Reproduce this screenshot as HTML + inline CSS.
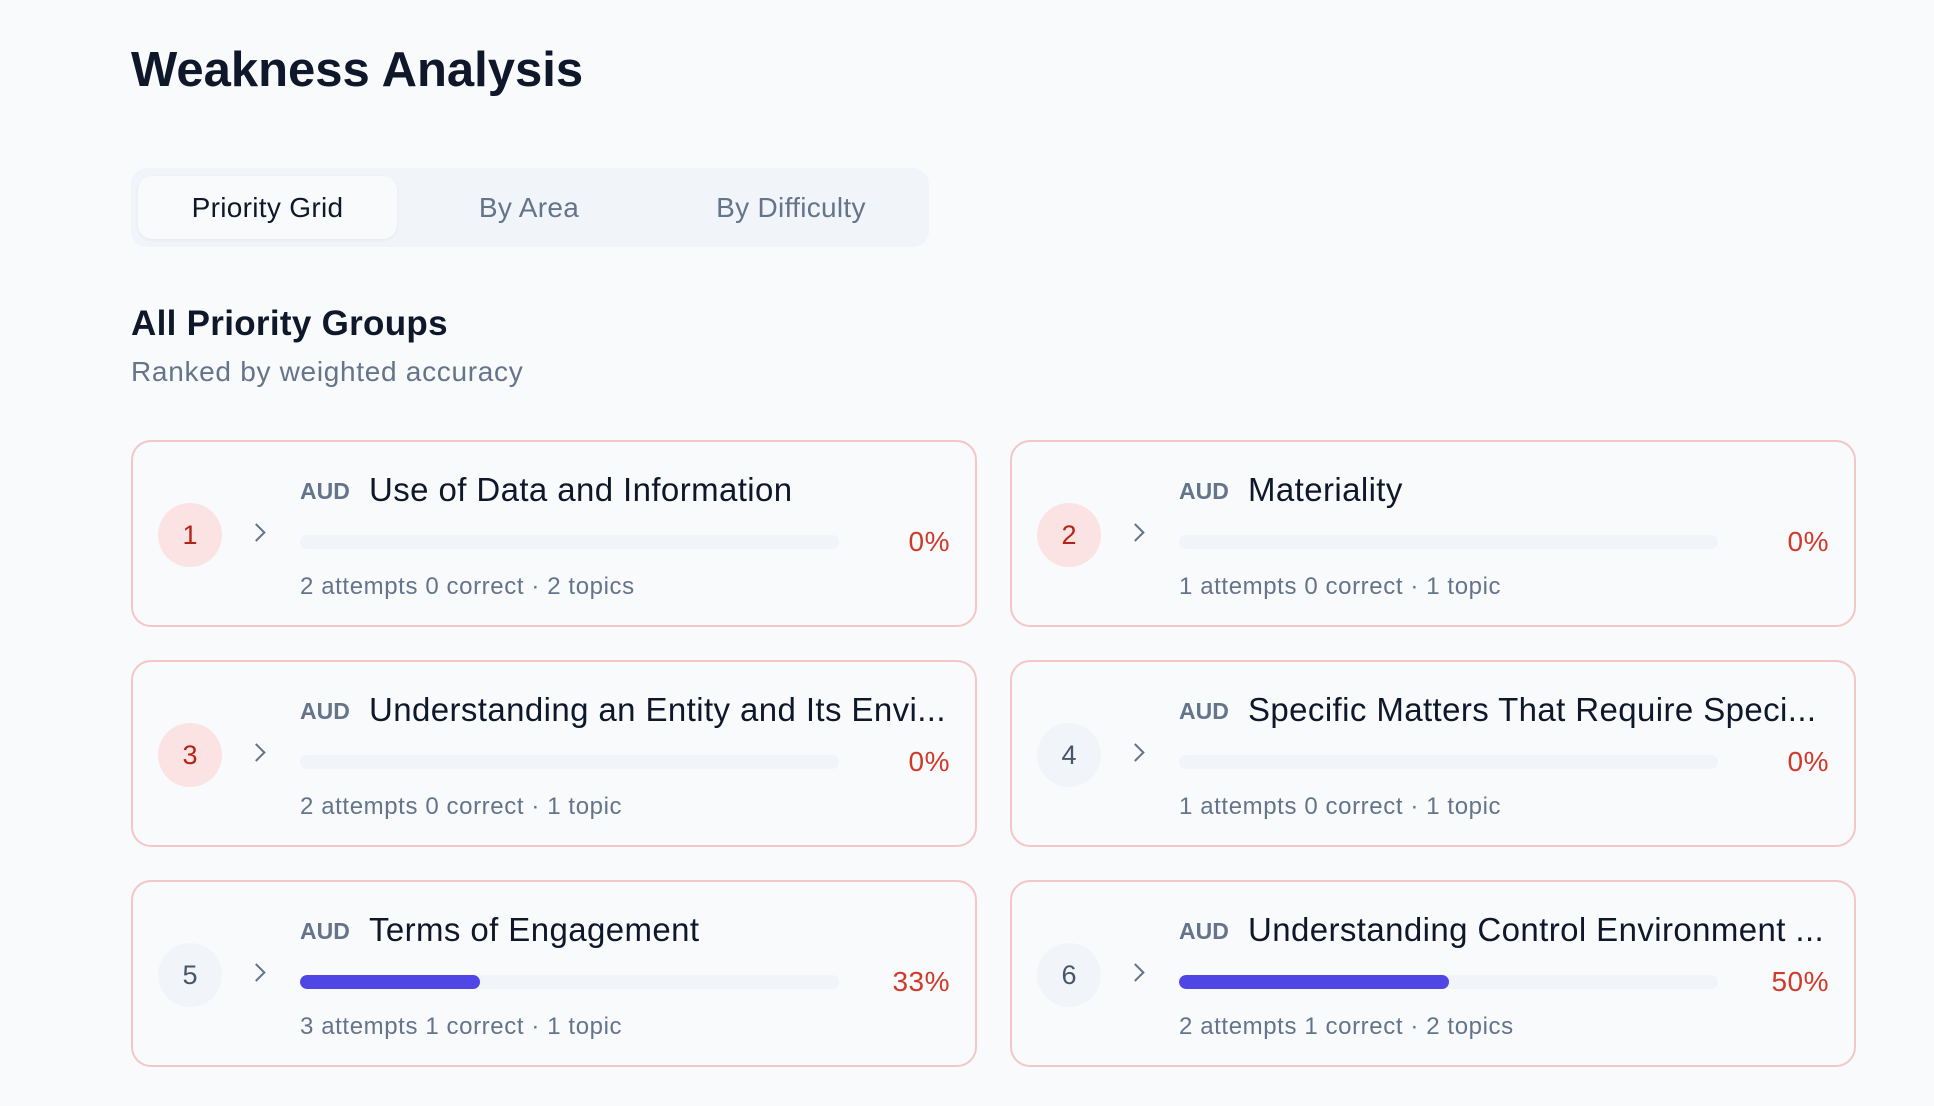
<!DOCTYPE html>
<html><head><meta charset="utf-8"><style>
*{margin:0;padding:0;box-sizing:border-box}
body{width:1934px;height:1106px;background:#f8fafc;font-family:"Liberation Sans",sans-serif;position:relative;overflow:hidden;color:#0f172a}
.abs{position:absolute;white-space:nowrap}
h1{position:absolute;left:131px;top:42px;font-size:49px;font-weight:700;color:#0f172a}
.tabs{position:absolute;left:131px;top:168px;width:798px;height:79px;background:#f1f5f9;border-radius:16px}
.tab{position:absolute;top:8px;height:63px;line-height:63px;font-size:28px;color:#64748b;text-align:center;letter-spacing:0.3px}
.tab.on{background:#f8fafc;color:#0f172a;border-radius:14px;box-shadow:0 1px 3px rgba(0,0,0,0.06)}
.card{position:absolute;width:846px;height:187px;border:2px solid #f5c6c6;border-radius:20px;background:#f8fafc}
.circ{position:absolute;left:25px;top:61px;width:64px;height:64px;border-radius:50%;text-align:center;line-height:64px;font-size:27px;font-weight:500}
.hot{background:#fbe3e3;color:#b42318}
.cold{background:#f1f5f9;color:#475569}
.chev{position:absolute;left:117px;top:84px;width:13px;height:13px;border-right:2.5px solid #64748b;border-top:2.5px solid #64748b;transform:rotate(45deg)}
.aud{position:absolute;left:167px;top:36px;font-size:23px;font-weight:700;color:#64748b}
.ttl{position:absolute;left:236px;top:29px;font-size:33px;color:#0f172a;white-space:nowrap;letter-spacing:0.4px}
.bar{position:absolute;left:167px;top:93px;width:539px;height:14px;border-radius:7px;background:#f1f5f9;overflow:hidden}
.fill{height:100%;background:#4f46e5;border-radius:7px}
.pct{position:absolute;right:25px;top:84px;font-size:28px;color:#d03a2b;letter-spacing:0.5px}
.sub{position:absolute;left:167px;top:131px;font-size:24px;color:#64748b;white-space:nowrap;letter-spacing:0.6px}
</style></head><body>
<h1>Weakness Analysis</h1>
<div class="tabs">
<div class="tab on" style="left:7px;width:259px">Priority Grid</div>
<div class="tab" style="left:300px;width:196px">By Area</div>
<div class="tab" style="left:560px;width:200px">By Difficulty</div>
</div>
<div class="abs" style="left:131px;top:304px;font-size:35px;font-weight:700;color:#0f172a;letter-spacing:0.3px">All Priority Groups</div>
<div class="abs" style="left:131px;top:356px;font-size:28px;color:#64748b;letter-spacing:0.7px">Ranked by weighted accuracy</div>

<div class="card" style="left:131px;top:440px"><div class="circ hot">1</div><div class="chev"></div><div class="aud">AUD</div><div class="ttl">Use of Data and Information</div><div class="bar"></div><div class="pct">0%</div><div class="sub">2 attempts 0 correct · 2 topics</div></div>
<div class="card" style="left:1010px;top:440px"><div class="circ hot">2</div><div class="chev"></div><div class="aud">AUD</div><div class="ttl">Materiality</div><div class="bar"></div><div class="pct">0%</div><div class="sub">1 attempts 0 correct · 1 topic</div></div>
<div class="card" style="left:131px;top:660px"><div class="circ hot">3</div><div class="chev"></div><div class="aud">AUD</div><div class="ttl">Understanding an Entity and Its Envi...</div><div class="bar"></div><div class="pct">0%</div><div class="sub">2 attempts 0 correct · 1 topic</div></div>
<div class="card" style="left:1010px;top:660px"><div class="circ cold">4</div><div class="chev"></div><div class="aud">AUD</div><div class="ttl">Specific Matters That Require Speci...</div><div class="bar"></div><div class="pct">0%</div><div class="sub">1 attempts 0 correct · 1 topic</div></div>
<div class="card" style="left:131px;top:880px"><div class="circ cold">5</div><div class="chev"></div><div class="aud">AUD</div><div class="ttl">Terms of Engagement</div><div class="bar"><div class="fill" style="width:33.4%"></div></div><div class="pct">33%</div><div class="sub">3 attempts 1 correct · 1 topic</div></div>
<div class="card" style="left:1010px;top:880px"><div class="circ cold">6</div><div class="chev"></div><div class="aud">AUD</div><div class="ttl">Understanding Control Environment ...</div><div class="bar"><div class="fill" style="width:50%"></div></div><div class="pct">50%</div><div class="sub">2 attempts 1 correct · 2 topics</div></div>
</body></html>
